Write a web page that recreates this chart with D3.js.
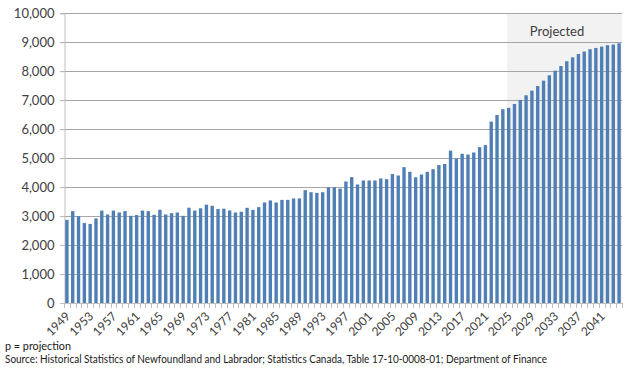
<!DOCTYPE html>
<html>
<head>
<meta charset="utf-8">
<script src="https://cdn.jsdelivr.net/npm/d3@7"></script>
<style>
  html, body { margin: 0; padding: 0; background: #fff; }
  svg { display: block; font-family: Lato, "Open Sans", sans-serif; }
</style>
</head>
<body>
<svg id="chart" width="640" height="374"></svg>
<script>
const years = d3.range(1949, 2045).map(String);
const values = [
  2870, 3170, 3000, 2760, 2730, 2920, 3190, 3055, 3190, 3125,
  3170, 3010, 3035, 3190, 3170, 3045, 3220, 3055, 3100, 3125,
  3010, 3290, 3190, 3270, 3395, 3355, 3245, 3255, 3195, 3125,
  3150, 3285, 3215, 3310, 3470, 3540, 3470, 3560, 3560, 3610,
  3610, 3895, 3825, 3800, 3825, 3990, 3990, 3950, 4195, 4345,
  4090, 4230, 4230, 4230, 4300, 4275, 4450, 4400, 4690, 4530,
  4340, 4435, 4525, 4620, 4760, 4800, 5260, 4990, 5150, 5125,
  5195, 5380, 5450, 6260, 6490, 6690, 6735, 6870, 7010, 7170,
  7330, 7490, 7675, 7860, 8020, 8180, 8345, 8480, 8595, 8680,
  8760, 8805, 8850, 8900, 8920, 8965
];
const xTickLabels = ["1949","1953","1957","1961","1965","1969","1973","1977","1981","1985",
  "1989","1993","1997","2001","2005","2009","2013","2017","2021","2025","2029","2033","2037","2041"];
const yTicks = [0, 1000, 2000, 3000, 4000, 5000, 6000, 7000, 8000, 9000, 10000];
const projectedStart = "2025";
const projectedLabel = "Projected";
const footnotes = ["p = projection",
  "Source: Historical Statistics of Newfoundland and Labrador; Statistics Canada, Table 17-10-0008-01; Department of Finance"];

const svg = d3.select("#chart");
const pLeft = 64, pRight = 622, pTop = 13.3, pBottom = 303;

const x = d3.scaleBand().domain(years).range([pLeft, pRight]).paddingInner(0.42).paddingOuter(0.21);
const y = d3.scaleLinear().domain([0, 10000]).range([pBottom, pTop]);
const step = x.step();

// projected shading
svg.append("rect")
  .attr("x", x(projectedStart))
  .attr("y", y(10000))
  .attr("width", pRight - x(projectedStart))
  .attr("height", y(0) - y(10000))
  .attr("fill", "#f2f2f2");

// gridlines
svg.append("g").selectAll("line").data(yTicks.filter(d => d > 0)).join("line")
  .attr("x1", pLeft - 4).attr("x2", pRight)
  .attr("y1", d => Math.round(y(d)) + 0.5).attr("y2", d => Math.round(y(d)) + 0.5)
  .attr("stroke", "#a6a6a6").attr("stroke-width", 1);

// y axis
const yAxis = d3.axisLeft(y).tickValues(yTicks).tickSize(4).tickPadding(6)
  .tickFormat(d3.format(","));
const gy = svg.append("g").attr("transform", `translate(${pLeft + 0.5},0)`).call(yAxis);
gy.select(".domain").attr("stroke", "#bfbfbf");
gy.selectAll(".tick line").attr("stroke", "#bfbfbf");
gy.selectAll(".tick text").attr("fill", "#404040").style("font-size", "13px")
  .style("font-family", "Lato, 'Open Sans', sans-serif");

// bars
svg.append("g").selectAll("rect").data(values).join("rect")
  .attr("x", (d, i) => x(years[i]))
  .attr("y", d => y(d))
  .attr("width", x.bandwidth())
  .attr("height", d => y(0) - y(d))
  .attr("fill", "#4f7fb4");

// x axis line and ticks at band boundaries
const gx = svg.append("g");
gx.append("line").attr("x1", pLeft).attr("x2", pRight)
  .attr("y1", pBottom + 0.5).attr("y2", pBottom + 0.5).attr("stroke", "#bfbfbf");
gx.selectAll("line.tk").data(years.concat(["end"])).join("line").attr("class", "tk")
  .attr("x1", (d, i) => Math.round(pLeft + i * step) + 0.5)
  .attr("x2", (d, i) => Math.round(pLeft + i * step) + 0.5)
  .attr("y1", pBottom).attr("y2", pBottom + 5).attr("stroke", "#bfbfbf");

// x labels
gx.selectAll("text").data(xTickLabels).join("text")
  .attr("transform", d => `translate(${x(d) + x.bandwidth() / 2 + 1},${pBottom + 11}) rotate(-45)`)
  .attr("text-anchor", "end")
  .attr("dy", "0.35em")
  .attr("fill", "#404040")
  .style("font-size", "12px")
  .text(d => d);

// projected label
svg.append("text")
  .attr("x", 557).attr("y", 31).attr("dy", "0.35em")
  .attr("text-anchor", "middle").attr("fill", "#404040")
  .style("font-size", "13px").text(projectedLabel);

// footnotes
svg.append("text").attr("x", 5).attr("y", 350).attr("fill", "#202020")
  .style("font-size", "10.5px").attr("textLength", 66).attr("lengthAdjust", "spacingAndGlyphs")
  .text(footnotes[0]);
svg.append("text").attr("x", 5).attr("y", 363).attr("fill", "#202020")
  .style("font-size", "10.5px").attr("textLength", 542).attr("lengthAdjust", "spacingAndGlyphs")
  .text(footnotes[1]);
</script>
</body>
</html>
